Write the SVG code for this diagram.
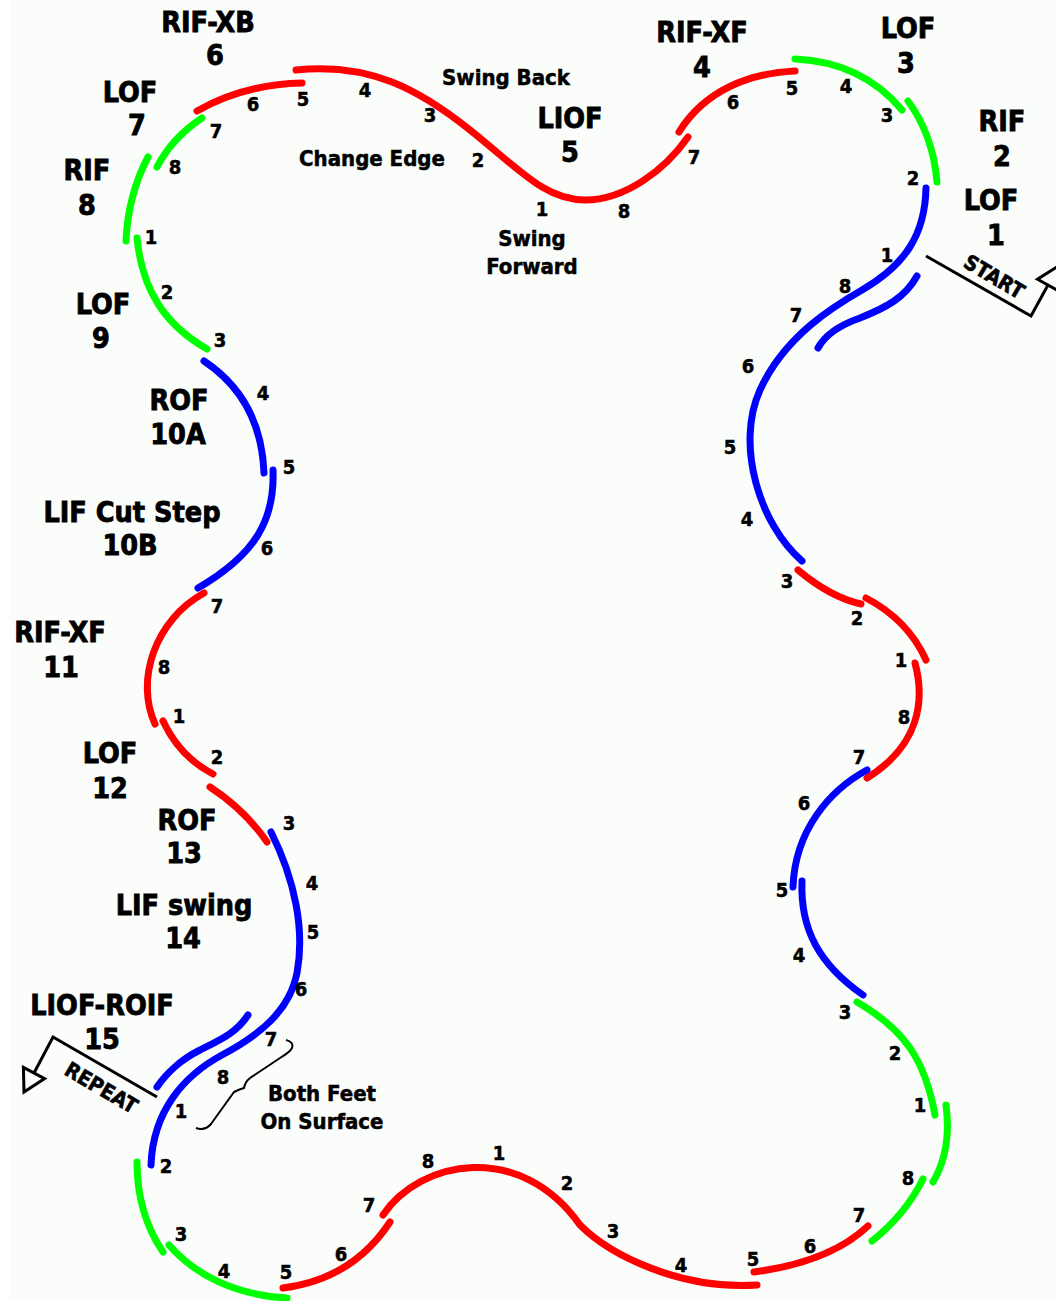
<svg xmlns="http://www.w3.org/2000/svg" width="1056" height="1301" viewBox="0 0 1056 1301">
<style>
.tr{fill:none;stroke-width:7;stroke-linecap:round;stroke-linejoin:round}
.r{stroke:#FF0000}.g{stroke:#00FF00}.b{stroke:#0000FF}
.ln{fill:none;stroke:#000;stroke-width:3;stroke-linejoin:miter}
text{font-family:"DejaVu Sans Condensed","DejaVu Sans",sans-serif;font-weight:bold;fill:#000;stroke:#000;stroke-width:0.5;text-anchor:middle}
.big{font-size:28.5px;stroke-width:0.8}
.mid{font-size:22px}
.n{font-size:20px}
.tag{font-size:21px;stroke-width:0.6}
</style>
<rect x="0" y="0" width="1056" height="1301" fill="#FFFFFF"/>
<rect x="10" y="0" width="1046" height="1301" fill="#FBFDFB"/>

<g id="connectors">
  <g id="red-edges">
    <path class="tr r" d="M302,83 C260,84 225,95 197,111"/>
    <path class="tr r" d="M296,70 C370,62 420,90 470,130 C520,170 545,200 585,200 C625,200 665,170 688,137"/>
    <path class="tr r" d="M795,71 C750,73 705,90 679,132"/>
    <path class="tr r" d="M204,593 C155,620 135,680 155,724"/>
    <path class="tr r" d="M163,721 Q180,757 213,774"/>
    <path class="tr r" d="M210,787 Q245,810 267,842"/>
    <path class="tr r" d="M283,1288 C330,1282 365,1260 390,1222"/>
    <path class="tr r" d="M383,1215 C420,1160 520,1140 580,1225 C610,1255 680,1290 757,1285"/>
    <path class="tr r" d="M754,1272 Q830,1262 868,1226"/>
    <path class="tr r" d="M798,570 Q830,597 861,604"/>
    <path class="tr r" d="M866,598 Q908,620 926,660"/>
    <path class="tr r" d="M915,663 C925,700 920,745 867,778"/>
  </g>
  <g id="green-edges">
    <path class="tr g" d="M795,59 Q862,62 902,110"/>
    <path class="tr g" d="M908,101 Q933,135 937,182"/>
    <path class="tr g" d="M202,118 Q172,138 157,167"/>
    <path class="tr g" d="M148,157 Q128,195 126,241"/>
    <path class="tr g" d="M137,238 C142,290 165,325 207,349"/>
    <path class="tr g" d="M137,1162 C137,1200 148,1230 163,1252"/>
    <path class="tr g" d="M169,1245 C195,1275 235,1295 287,1298"/>
    <path class="tr g" d="M857,1002 C905,1030 925,1060 935,1115"/>
    <path class="tr g" d="M946,1105 Q952,1150 933,1182"/>
    <path class="tr g" d="M923,1179 Q905,1215 872,1241"/>
  </g>
  <g id="blue-edges">
    <path class="tr b" d="M926,188 C925,235 905,265 862,290 C836,305 785,335 760,390 C735,445 760,525 802,561"/>
    <path class="tr b" d="M917,276 C905,298 885,308 860,318 C840,325 825,335 818,348"/>
    <path class="tr b" d="M204,361 C240,385 262,420 264,473"/>
    <path class="tr b" d="M273,470 C275,520 255,555 198,588"/>
    <path class="tr b" d="M271,832 C295,880 305,930 297,973 C290,1010 260,1035 222,1055 C185,1075 153,1110 151,1165"/>
    <path class="tr b" d="M248,1015 C235,1035 215,1042 200,1050 C180,1060 165,1075 157,1087"/>
    <path class="tr b" d="M867,770 C830,790 795,830 793,887"/>
    <path class="tr b" d="M802,881 C800,930 820,965 863,995"/>
  </g>
  <g id="start-arrow">
    <polyline class="ln" points="926,256 1031,316 1048,285"/>
    <polygon class="ln" points="1037.5,279.2 1058.5,290.8 1058.7,265.8"/>
  </g>
  <g id="repeat-arrow">
    <polyline class="ln" points="157,1097 53,1037 34,1073"/>
    <polygon class="ln" points="23.4,1067.4 44.6,1078.6 24,1092"/>
  </g>
  <path id="brace" fill="none" stroke="#000" stroke-width="2" d="M286,1040 Q294,1042 292,1048 Q290,1052 280,1058 L250,1078 Q245,1082 244,1088 Q240,1089 234,1092 L211,1124 Q205,1131 196,1128"/>
</g>

<g id="step-labels">
  <g id="step1"><text class="big" x="991" y="210">LOF</text><text class="big" x="996" y="245">1</text></g>
  <g id="step2"><text class="big" x="1002" y="131">RIF</text><text class="big" x="1002" y="166">2</text></g>
  <g id="step3"><text class="big" x="908" y="38">LOF</text><text class="big" x="906" y="73">3</text></g>
  <g id="step4"><text class="big" x="702" y="42">RIF-XF</text><text class="big" x="702" y="77">4</text></g>
  <g id="step5"><text class="big" x="570" y="128">LIOF</text><text class="big" x="570" y="162">5</text></g>
  <g id="step6"><text class="big" x="208" y="32">RIF-XB</text><text class="big" x="215" y="65">6</text></g>
  <g id="step7"><text class="big" x="130" y="102">LOF</text><text class="big" x="137" y="135">7</text></g>
  <g id="step8"><text class="big" x="87" y="180">RIF</text><text class="big" x="87" y="215">8</text></g>
  <g id="step9"><text class="big" x="103" y="314">LOF</text><text class="big" x="101" y="348">9</text></g>
  <g id="step10a"><text class="big" x="179" y="410">ROF</text><text class="big" x="178" y="444">10A</text></g>
  <g id="step10b"><text class="big" x="132" y="522">LIF Cut Step</text><text class="big" x="130" y="555">10B</text></g>
  <g id="step11"><text class="big" x="60" y="642">RIF-XF</text><text class="big" x="61" y="677">11</text></g>
  <g id="step12"><text class="big" x="110" y="763">LOF</text><text class="big" x="110" y="798">12</text></g>
  <g id="step13"><text class="big" x="187" y="830">ROF</text><text class="big" x="184" y="863">13</text></g>
  <g id="step14"><text class="big" x="184" y="915">LIF swing</text><text class="big" x="183" y="948">14</text></g>
  <g id="step15"><text class="big" x="102" y="1015">LIOF-ROIF</text><text class="big" x="102" y="1049">15</text></g>
</g>

<g id="notes">
  <text class="mid" x="506" y="85">Swing Back</text>
  <text class="mid" x="372" y="166">Change Edge</text>
  <text class="mid" x="532" y="246">Swing</text>
  <text class="mid" x="532" y="274">Forward</text>
  <text class="mid" x="322" y="1101">Both Feet</text>
  <text class="mid" x="322" y="1129">On Surface</text>
  <text class="tag" transform="translate(994,277) rotate(30.6)" y="7">START</text>
  <text class="tag" transform="translate(101,1088) rotate(30.4)" y="7">REPEAT</text>
</g>

<g id="counts">
  <text class="n" x="253" y="111">6</text>
  <text class="n" x="303" y="106">5</text>
  <text class="n" x="365" y="97">4</text>
  <text class="n" x="430" y="122">3</text>
  <text class="n" x="478" y="167">2</text>
  <text class="n" x="542" y="216">1</text>
  <text class="n" x="624" y="218">8</text>
  <text class="n" x="694" y="164">7</text>
  <text class="n" x="733" y="109">6</text>
  <text class="n" x="792" y="95">5</text>
  <text class="n" x="846" y="93">4</text>
  <text class="n" x="887" y="122">3</text>
  <text class="n" x="913" y="185">2</text>
  <text class="n" x="887" y="262">1</text>
  <text class="n" x="845" y="293">8</text>
  <text class="n" x="796" y="322">7</text>
  <text class="n" x="748" y="373">6</text>
  <text class="n" x="730" y="454">5</text>
  <text class="n" x="747" y="526">4</text>
  <text class="n" x="787" y="588">3</text>
  <text class="n" x="857" y="625">2</text>
  <text class="n" x="901" y="667">1</text>
  <text class="n" x="904" y="724">8</text>
  <text class="n" x="859" y="764">7</text>
  <text class="n" x="804" y="810">6</text>
  <text class="n" x="782" y="897">5</text>
  <text class="n" x="799" y="962">4</text>
  <text class="n" x="845" y="1019">3</text>
  <text class="n" x="895" y="1060">2</text>
  <text class="n" x="920" y="1112">1</text>
  <text class="n" x="908" y="1185">8</text>
  <text class="n" x="859" y="1222">7</text>
  <text class="n" x="810" y="1253">6</text>
  <text class="n" x="753" y="1266">5</text>
  <text class="n" x="681" y="1272">4</text>
  <text class="n" x="613" y="1238">3</text>
  <text class="n" x="567" y="1190">2</text>
  <text class="n" x="499" y="1160">1</text>
  <text class="n" x="428" y="1168">8</text>
  <text class="n" x="369" y="1212">7</text>
  <text class="n" x="341" y="1261">6</text>
  <text class="n" x="286" y="1279">5</text>
  <text class="n" x="224" y="1278">4</text>
  <text class="n" x="181" y="1241">3</text>
  <text class="n" x="166" y="1173">2</text>
  <text class="n" x="181" y="1118">1</text>
  <text class="n" x="223" y="1084">8</text>
  <text class="n" x="271" y="1046">7</text>
  <text class="n" x="301" y="996">6</text>
  <text class="n" x="313" y="939">5</text>
  <text class="n" x="312" y="890">4</text>
  <text class="n" x="289" y="830">3</text>
  <text class="n" x="217" y="764">2</text>
  <text class="n" x="179" y="723">1</text>
  <text class="n" x="164" y="674">8</text>
  <text class="n" x="217" y="613">7</text>
  <text class="n" x="267" y="555">6</text>
  <text class="n" x="289" y="474">5</text>
  <text class="n" x="263" y="400">4</text>
  <text class="n" x="220" y="347">3</text>
  <text class="n" x="167" y="299">2</text>
  <text class="n" x="151" y="244">1</text>
  <text class="n" x="175" y="174">8</text>
  <text class="n" x="216" y="138">7</text>
</g>
</svg>
